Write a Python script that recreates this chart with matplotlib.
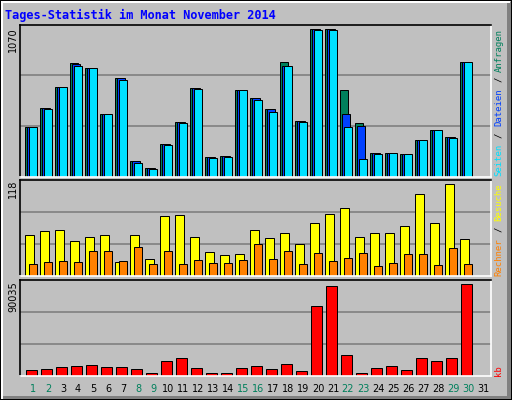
import matplotlib
matplotlib.use("Agg")
import matplotlib.pyplot as plt
from matplotlib.patches import Rectangle
import numpy as np

days = list(range(1, 32))
hits  = [358,500,652,825,789,450,717,111,60,233,399,644,139,147,630,572,486,832,406,1070,1070,630,385,168,168,161,262,335,284,832,0]
files = [358,500,652,818,789,450,717,111,60,233,399,644,139,147,630,572,486,803,406,1070,1070,450,363,168,168,161,262,335,284,832,0]
pages = [358,493,652,803,789,450,702,96,53,226,385,637,132,139,630,558,471,803,399,1063,1063,356,125,161,168,161,262,335,277,832,0]
visits = [52.6,57.7,59,45,51,52.6,18,52.6,22,77,78,50,31,27,28,59,49,56,41,68,79.5,87,50,55,56,64,105,69,118,47.5,0]
sites  = [15.4,18,19,18,32,33,19,37,15.4,32,15.4,20.5,16.7,16.7,20.5,42,22,33,15.4,29.5,19,23,29.5,12.8,16.7,28,28,14,36,15.4,0]
kbytes = [5260,6240,8215,9200,10190,8215,8215,6240,2300,14130,17090,7230,2300,2300,7230,9200,6240,11170,4270,68350,88060,20040,2300,7230,9200,5260,17090,14130,17090,90035,0]
weekend = [1,2,8,9,15,16,22,23,29,30]
title = "Tages-Statistik im Monat November 2014"

W, H = 512, 400
fig = plt.figure(figsize=(W/100, H/100), dpi=100)
bg = "#C0C0C0"
fig.patch.set_facecolor(bg)

def px(x):  # pixel width -> day units
    return x / 15.0

xl = (1 + (20 - 31.5) / 15, 1 + (491 - 31.5) / 15)
lw = 0.72
panels = [
    (24.7, 176.7, 1070, 152/148),
    (180.0, 276.3, 118, 96.3/92),
    (280.3, 375.7, 90035, 95.3/91.3),
]
axes = []
for top, bot, mx, f in panels:
    ax = fig.add_axes([20/W, (H-bot)/H, 471/W, (bot-top)/H])
    ax.set_facecolor(bg)
    ax.set_xlim(*xl)
    ax.set_ylim(0, mx*f)
    ax.set_xticks([]); ax.set_yticks([])
    for y in (mx*f/3, 2*mx*f/3):
        ax.axhline(y, color="#808080", lw=1.2, zorder=0)
    ax.spines["top"].set_color("black"); ax.spines["left"].set_color("black")
    ax.spines["bottom"].set_color("white"); ax.spines["right"].set_color("white")
    for s in ax.spines.values():
        s.set_linewidth(1.2)
    axes.append(ax)

d = np.array(days)
a0, a1, a2 = axes
a0.bar(d + px(-6.8), hits, width=px(8), align="edge", color="#00805C", edgecolor="black", lw=lw)
a0.bar(d + px(-4.8), files, width=px(8), align="edge", color="#0040FF", edgecolor="black", lw=lw)
a0.bar(d + px(-2.8), pages, width=px(8), align="edge", color="#00E0FF", edgecolor="black", lw=lw)
a1.bar(d + px(-6.2), visits, width=px(8.4), align="edge", color="#FFFF00", edgecolor="black", lw=lw)
a1.bar(d + px(-2.2), sites, width=px(7.4), align="edge", color="#FF8000", edgecolor="black", lw=lw)
a2.bar(d + px(-5.2), kbytes, width=px(10.4), align="edge", color="#FF0000", edgecolor="black", lw=lw)

def fy(y):
    return (H - y) / H

mono = "DejaVu Sans Mono"
fig.text(5/W, fy(15), title, color="#0000FF", fontweight="bold", family=mono, fontsize=8.6, va="center", ha="left")
for lab, ytop in (("1070", 27), ("118", 180), ("90035", 281)):
    fig.text(13/W, fy(ytop), lab, rotation=90, ha="center", va="top", family="DejaVu Sans", fontsize=7, color="black")

CW = 5.5
def vlabel(parts, ybot):
    y = ybot
    for txt, col in parts:
        n = len(txt)
        if txt.strip():
            lead = len(txt) - len(txt.lstrip())
            fig.text(499/W, fy(y - lead*CW), txt.strip(), rotation=90, ha="center", va="bottom",
                     family=mono, fontsize=6.5, color=col)
        y -= n * CW
vlabel([("Seiten", "#00E0FF"), (" / ", "black"), ("Dateien", "#0040FF"), (" / ", "black"), ("Anfragen", "#00805C")], 176)
vlabel([("Rechner", "#FF8000"), (" / ", "black"), ("Besuche", "#FFFF00")], 276)
vlabel([("kb", "#FF0000")], 376)

for dd in days:
    xp = 31.5 + 15*(dd-1) + 1.5
    fig.text(xp/W, fy(389), str(dd), ha="center", va="center", family="DejaVu Sans", fontsize=7,
             color="#00805C" if dd in weekend else "black")

# frame / bevel
fig.patches.append(Rectangle((0, 0), 1, 1, transform=fig.transFigure, fill=False, ec="black", lw=1.5))
fig.patches.append(Rectangle((507/W, 1/H), 4/W, 397/H, transform=fig.transFigure, fc="#808080", ec="none"))
fig.patches.append(Rectangle((1/W, 1/H), 510/W, 3/H, transform=fig.transFigure, fc="#808080", ec="none"))
fig.patches.append(Rectangle((1/W, 1/H), 2/W, 397/H, transform=fig.transFigure, fc="white", ec="none"))
fig.patches.append(Rectangle((1/W, 397/H), 509/W, 2/H, transform=fig.transFigure, fc="white", ec="none"))

fig.savefig("out.png", dpi=100, facecolor=bg)
